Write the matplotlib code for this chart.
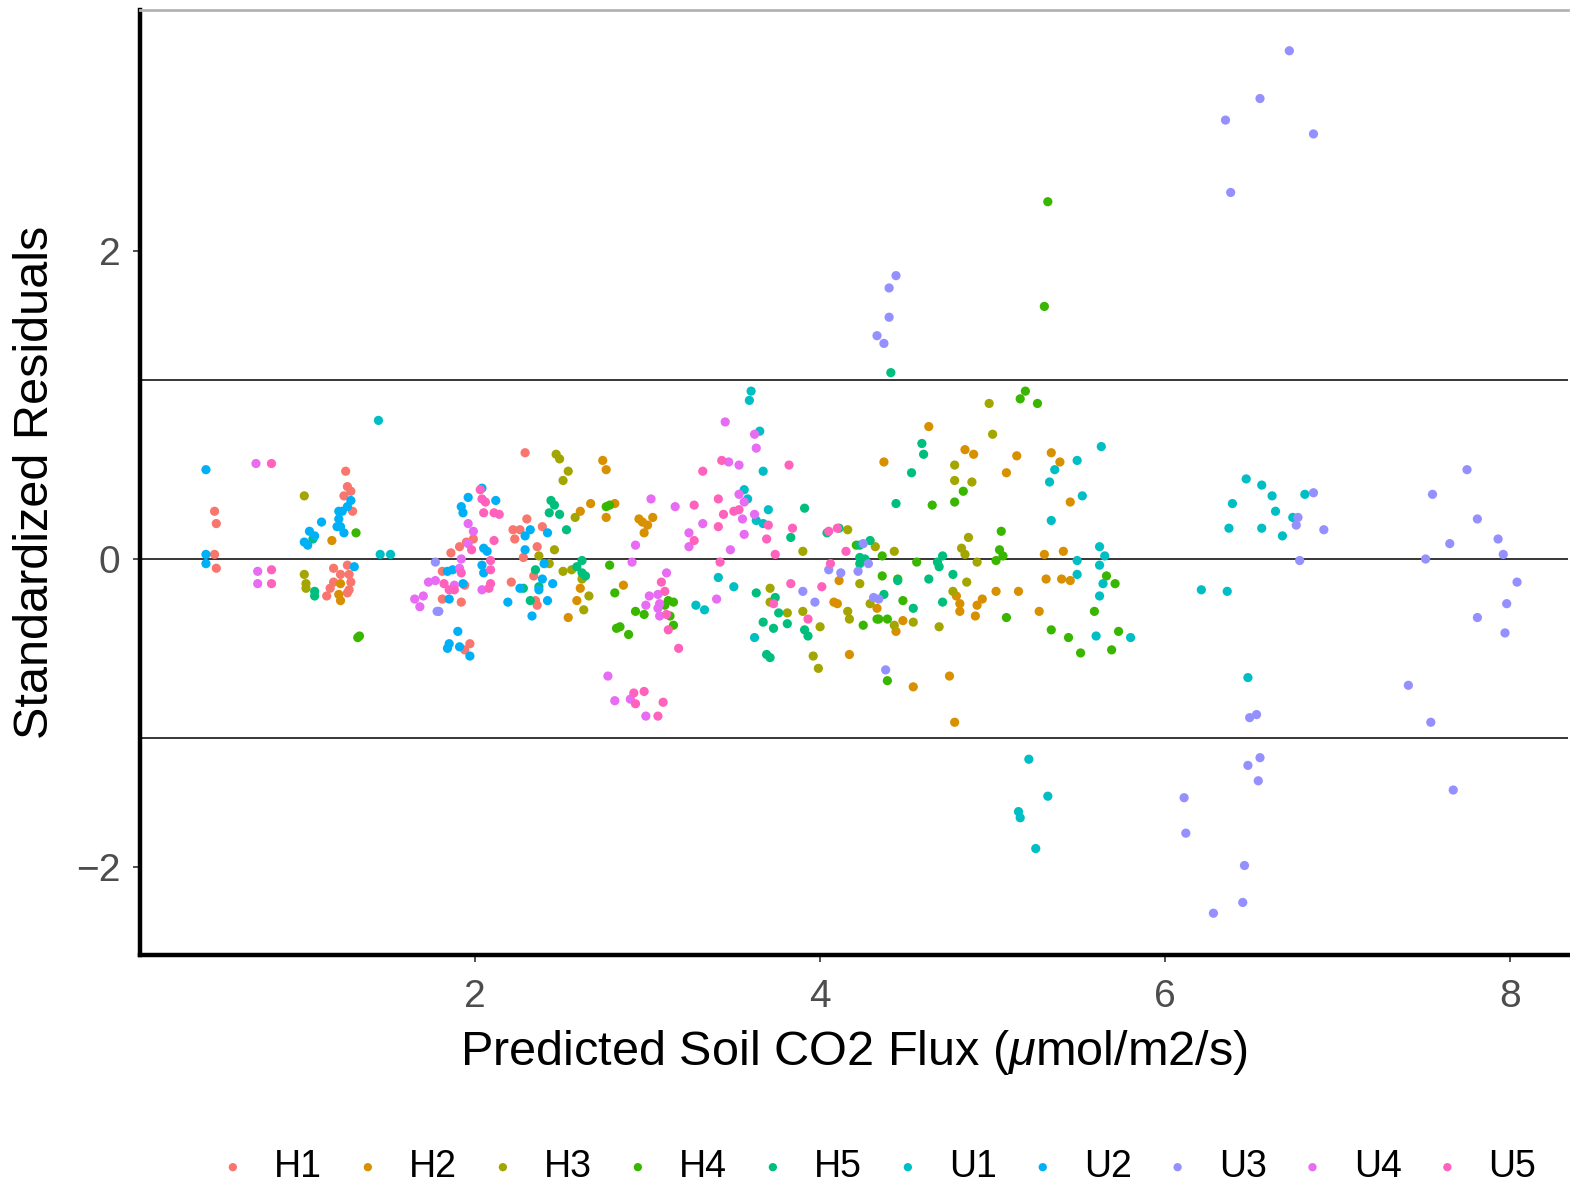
import matplotlib
matplotlib.use("Agg")
import matplotlib.pyplot as plt

plt.rcParams["font.family"] = ["Liberation Sans", "DejaVu Sans"]
plt.rcParams["mathtext.fontset"] = "custom"
plt.rcParams["mathtext.rm"] = "Liberation Sans"
plt.rcParams["mathtext.it"] = "Liberation Sans:italic"

# ---- data: (predicted flux, standardized residual) per plot ----
groups = ["H1", "H2", "H3", "H4", "H5", "U1", "U2", "U3", "U4", "U5"]
colors = ["#F8766D", "#D89000", "#A3A500", "#39B600", "#00BF7D",
          "#00BFC4", "#00B0F6", "#9590FF", "#E76BF3", "#FF62BC"]

h1_x = [0.49, 0.50, 0.49, 0.50, 1.25, 1.26, 1.28, 1.24, 1.29, 1.18, 1.26, 1.22, 1.27, 1.28, 1.18, 1.16,
        1.14, 1.27, 1.26, 1.81, 1.86, 1.91, 1.95, 1.99, 1.81, 1.92, 1.94, 1.97, 1.94, 2.29, 2.22, 2.26,
        2.23, 2.30, 2.39, 2.36, 2.28, 2.21, 2.34, 2.36, 2.35]
h1_y = [0.31, 0.23, 0.03, -0.06, 0.57, 0.47, 0.44, 0.41, 0.31, -0.06, -0.04, -0.10, -0.10, -0.15, -0.15, -0.19,
        -0.24, -0.20, -0.22, -0.08, 0.04, 0.08, 0.11, 0.13, -0.26, -0.28, -0.17, -0.55, -0.59, 0.69, 0.19, 0.19,
        0.13, 0.26, 0.21, 0.08, 0.01, -0.15, -0.11, -0.30, -0.27]

h2_x = [1.17, 1.22, 1.21, 1.22, 2.74, 2.76, 2.67, 2.61, 2.76, 2.81, 2.95, 2.97, 3.00, 3.03, 2.98, 2.86,
        2.61, 2.59, 2.54, 4.08, 4.10, 4.17, 4.11, 4.33, 4.63, 4.84, 4.89, 4.37, 5.14, 5.08, 5.34, 5.39,
        5.30, 5.31, 5.40, 5.15, 5.02, 4.94, 4.91, 4.90, 5.27, 4.81, 4.81, 4.79, 4.75, 4.54, 4.48, 4.44,
        5.45, 5.41, 5.45, 4.78]
h2_y = [0.12, -0.16, -0.23, -0.27, 0.64, 0.58, 0.36, 0.31, 0.27, 0.36, 0.26, 0.24, 0.22, 0.27, 0.17, -0.17,
        -0.19, -0.27, -0.38, -0.28, -0.29, -0.62, -0.14, -0.32, 0.86, 0.71, 0.68, 0.63, 0.67, 0.56, 0.69, 0.63,
        0.03, -0.13, -0.13, -0.21, -0.21, -0.26, -0.30, -0.37, -0.34, -0.29, -0.34, -0.24, -0.76, -0.83, -0.40, -0.47,
        0.37, 0.05, -0.14, -1.06]

h3_x = [1.01, 1.01, 1.02, 1.02, 2.47, 2.49, 2.54, 2.51, 2.58, 2.46, 2.37, 2.43, 2.51, 2.56, 2.62, 2.66,
        2.63, 3.71, 3.71, 3.81, 3.90, 4.00, 3.96, 3.99, 3.90, 4.16, 4.23, 4.16, 4.17, 4.29, 4.98, 5.00,
        4.78, 4.78, 4.88, 4.86, 4.82, 4.84, 4.91, 4.43, 4.32, 4.85, 4.77, 4.43, 4.69, 4.54]
h3_y = [0.41, -0.10, -0.16, -0.19, 0.68, 0.65, 0.57, 0.51, 0.27, 0.06, 0.02, -0.03, -0.08, -0.07, -0.13, -0.24,
        -0.33, -0.19, -0.28, -0.35, -0.34, -0.44, -0.63, -0.71, 0.05, 0.19, -0.16, -0.34, -0.39, -0.29, 1.01, 0.81,
        0.61, 0.51, 0.50, 0.14, 0.07, 0.03, -0.02, 0.05, 0.08, -0.15, -0.21, -0.43, -0.44, -0.41]

h4_x = [1.31, 1.32, 1.33, 2.76, 2.78, 2.78, 2.81, 2.93, 2.98, 2.82, 2.84, 2.89, 3.12, 3.15, 3.10, 3.13,
        3.15, 4.25, 4.21, 4.34, 5.19, 5.16, 5.26, 4.83, 4.78, 4.65, 5.05, 5.04, 5.06, 5.02, 4.56, 4.36,
        4.48, 4.45, 4.33, 4.39, 5.08, 5.34, 4.39, 4.36, 5.66, 5.71, 5.59, 5.44, 5.51, 5.73, 5.69, 5.32,
        5.30]
h4_y = [0.17, -0.51, -0.50, 0.34, 0.35, -0.04, -0.22, -0.34, -0.36, -0.45, -0.44, -0.49, -0.27, -0.28, -0.30, -0.37,
        -0.43, -0.43, 0.09, -0.39, 1.09, 1.04, 1.01, 0.44, 0.37, 0.35, 0.18, 0.06, 0.02, -0.01, -0.02, -0.11,
        -0.27, -0.13, -0.39, -0.39, -0.38, -0.46, -0.79, 0.02, -0.11, -0.16, -0.34, -0.51, -0.61, -0.47, -0.59, 2.32,
        1.64]

h5_x = [1.06, 1.07, 1.07, 2.44, 2.46, 2.43, 2.49, 2.53, 2.35, 2.28, 2.37, 2.32, 2.62, 2.59, 2.62, 2.64,
        3.91, 3.83, 3.63, 3.74, 3.76, 3.81, 3.67, 3.73, 3.91, 3.93, 3.69, 3.71, 4.04, 4.11, 4.23, 4.29,
        4.23, 4.26, 4.23, 4.41, 4.59, 4.60, 4.53, 4.44, 4.71, 4.68, 4.69, 4.77, 4.63, 4.45, 4.54, 4.71,
        4.37]
h5_y = [0.13, -0.21, -0.24, 0.38, 0.35, 0.30, 0.29, 0.19, -0.07, -0.19, -0.18, -0.27, -0.01, -0.05, -0.09, -0.11,
        0.33, 0.14, -0.22, -0.25, -0.35, -0.42, -0.41, -0.45, -0.46, -0.50, -0.62, -0.64, 0.17, 0.20, 0.09, 0.12,
        0.01, 0.00, -0.03, 1.21, 0.75, 0.68, 0.56, 0.36, 0.02, -0.02, -0.05, -0.10, -0.13, -0.14, -0.32, -0.28,
        -0.23]

u1_x = [1.44, 1.45, 1.51, 3.28, 3.60, 3.59, 3.65, 3.67, 3.56, 3.58, 3.70, 3.63, 3.67, 3.41, 3.50, 3.33,
        3.62, 5.36, 5.33, 5.34, 5.63, 5.49, 5.52, 5.62, 5.65, 5.49, 5.62, 5.49, 5.64, 5.62, 5.60, 5.80,
        6.48, 6.47, 6.56, 6.62, 6.39, 6.64, 6.74, 6.37, 6.56, 6.68, 6.81, 6.21, 6.36, 5.21, 5.15, 5.16,
        5.32, 5.25]
u1_y = [0.90, 0.03, 0.03, -0.30, 1.09, 1.03, 0.83, 0.57, 0.45, 0.39, 0.32, 0.25, 0.23, -0.12, -0.18, -0.33,
        -0.51, 0.58, 0.50, 0.25, 0.73, 0.64, 0.41, 0.08, 0.02, -0.01, -0.04, -0.10, -0.16, -0.24, -0.50, -0.51,
        -0.77, 0.52, 0.48, 0.41, 0.36, 0.31, 0.27, 0.20, 0.20, 0.15, 0.42, -0.20, -0.21, -1.30, -1.64, -1.68,
        -1.54, -1.88]

u2_x = [0.44, 0.44, 0.44, 1.28, 1.26, 1.23, 1.21, 1.21, 1.11, 1.20, 1.22, 1.24, 1.04, 1.07, 1.01, 1.03,
        1.30, 1.84, 1.87, 1.85, 1.93, 1.96, 1.92, 1.93, 2.04, 2.12, 2.05, 2.07, 2.04, 2.05, 1.90, 1.85,
        1.84, 1.91, 1.97, 2.29, 2.32, 2.42, 2.29, 2.40, 2.39, 2.37, 2.45, 2.26, 2.19, 2.42, 2.33]
u2_y = [0.58, 0.03, -0.03, 0.38, 0.34, 0.31, 0.31, 0.26, 0.24, 0.21, 0.21, 0.17, 0.18, 0.15, 0.11, 0.09,
        -0.05, -0.08, -0.07, -0.26, -0.16, 0.40, 0.34, 0.30, 0.46, 0.38, 0.07, 0.05, -0.04, -0.09, -0.47, -0.55,
        -0.58, -0.57, -0.63, 0.15, 0.19, 0.17, 0.06, -0.03, -0.13, -0.20, -0.16, -0.19, -0.28, -0.27, -0.37]

u3_x = [1.77, 1.79, 1.78, 3.90, 3.97, 4.05, 4.12, 4.28, 4.25, 4.31, 4.34, 4.22, 4.38, 6.86, 6.77, 6.76,
        6.92, 6.78, 7.55, 7.75, 7.81, 7.65, 7.93, 7.96, 7.51, 8.04, 7.98, 7.81, 7.97, 6.72, 6.55, 6.35,
        6.86, 6.38, 4.44, 4.40, 4.40, 4.33, 4.37, 7.41, 7.54, 6.49, 6.53, 6.55, 6.48, 6.54, 7.67, 6.11,
        6.12, 6.46, 6.45, 6.28]
u3_y = [-0.02, -0.34, -0.34, -0.21, -0.28, -0.07, -0.09, -0.03, 0.10, -0.25, -0.26, -0.08, -0.72, 0.43, 0.27, 0.22,
        0.19, -0.01, 0.42, 0.58, 0.26, 0.10, 0.13, 0.03, 0.00, -0.15, -0.29, -0.38, -0.48, 3.30, 2.99, 2.85,
        2.76, 2.38, 1.84, 1.76, 1.57, 1.45, 1.40, -0.82, -1.06, -1.03, -1.01, -1.29, -1.34, -1.44, -1.50, -1.55,
        -1.78, -1.99, -2.23, -2.30]

u4_x = [0.73, 0.74, 0.74, 1.65, 1.70, 1.68, 1.73, 1.77, 1.96, 1.99, 1.96, 1.92, 1.91, 1.88, 2.04, 3.02,
        2.93, 2.91, 3.11, 3.01, 3.06, 3.07, 2.99, 3.06, 3.07, 3.24, 3.24, 2.77, 2.81, 2.90, 2.99, 3.45,
        3.62, 3.63, 3.47, 3.53, 3.16, 3.53, 3.56, 3.55, 3.62, 3.32, 3.56, 3.48, 3.40]
u4_y = [0.62, -0.08, -0.16, -0.26, -0.24, -0.31, -0.15, -0.14, 0.23, 0.18, 0.10, 0.00, -0.06, -0.17, -0.20, 0.39,
        0.09, -0.02, -0.09, -0.24, -0.23, -0.29, -0.30, -0.32, -0.37, 0.17, 0.08, -0.76, -0.92, -0.91, -1.02, 0.89,
        0.81, 0.72, 0.63, 0.61, 0.34, 0.42, 0.37, 0.26, 0.29, 0.23, 0.16, 0.06, -0.26]

u5_x = [0.82, 0.82, 0.82, 1.82, 1.85, 1.88, 1.92, 1.98, 2.03, 2.04, 2.06, 2.05, 2.11, 2.14, 2.11, 2.09,
        2.09, 2.09, 2.08, 3.08, 3.10, 3.11, 3.12, 3.18, 3.27, 3.27, 2.92, 2.98, 2.93, 3.09, 3.06, 3.43,
        3.32, 3.82, 3.41, 3.44, 3.50, 3.53, 3.41, 3.70, 3.69, 3.74, 3.84, 3.42, 3.83, 4.01, 3.73, 3.93,
        4.06, 4.05, 4.10, 4.15]
u5_y = [0.62, -0.07, -0.16, -0.16, -0.20, -0.20, -0.09, 0.06, 0.45, 0.39, 0.37, 0.30, 0.30, 0.29, 0.12, -0.01,
        -0.07, -0.16, -0.19, -0.15, -0.21, -0.36, -0.46, -0.58, 0.35, 0.12, -0.87, -0.86, -0.94, -0.93, -1.02, 0.64,
        0.57, 0.61, 0.39, 0.29, 0.31, 0.32, 0.21, 0.22, 0.13, 0.03, 0.20, -0.02, -0.16, -0.18, -0.29, -0.39,
        -0.03, 0.18, 0.20, 0.05]

series_x = [h1_x, h2_x, h3_x, h4_x, h5_x, u1_x, u2_x, u3_x, u4_x, u5_x]
series_y = [h1_y, h2_y, h3_y, h4_y, h5_y, u1_y, u2_y, u3_y, u4_y, u5_y]

ref_lines = [0.0, 1.165, -1.165]
x_ticks = [2, 4, 6, 8]
y_ticks = [-2, 0, 2]

# ---- plot ----
fig = plt.figure(figsize=(15.7, 11.86), dpi=100)
ax = fig.add_axes([0.0892, 0.1948, 0.9096, 0.7968])

for name, col, xs, ys in zip(groups, colors, series_x, series_y):
    ax.scatter(xs, ys, s=44, color=col, edgecolors="none", label=name, zorder=3)

for yv in ref_lines:
    ax.axhline(yv, color="black", lw=1.1, zorder=2)

ax.set_xlim(0.058, 8.336)
ax.set_ylim(-2.571, 3.565)
ax.set_xticks(x_ticks)
ax.set_yticks(y_ticks)
ax.set_yticklabels(["\u22122", "0", "2"])

ax.spines["right"].set_visible(False)
ax.spines["top"].set_color("#b3b3b3")
ax.spines["top"].set_linewidth(2)
ax.spines["left"].set_linewidth(3.2)
ax.spines["bottom"].set_linewidth(3.2)

ax.tick_params(axis="both", labelsize=28, colors="#333333", labelcolor="#4d4d4d",
               length=5, width=1.2)
ax.tick_params(axis="x", pad=12)
ax.tick_params(axis="y", pad=9)

ax.set_xlabel("Predicted Soil CO2 Flux ($\\mu$mol/m2/s)", fontsize=35, labelpad=10)
ax.set_ylabel("Standardized Residuals", fontsize=35, labelpad=13)

fig.legend(loc="center", bbox_to_anchor=(0.5605, 0.016), ncol=10, frameon=False,
           fontsize=27, markerscale=0.9, handlelength=0.5, handletextpad=0.85,
           columnspacing=0.97, borderaxespad=0)

fig.savefig("out.png", dpi=100, facecolor="white")
